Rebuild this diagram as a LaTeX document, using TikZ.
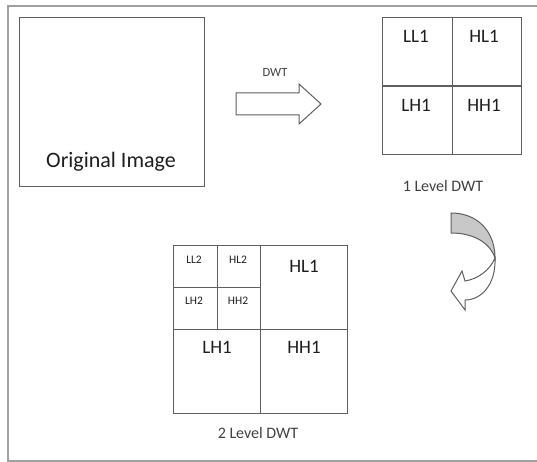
\documentclass[tikz,border=0pt]{standalone}
\usepackage{fontspec}
\setmainfont{Carlito}
\usetikzlibrary{positioning,calc}
\definecolor{lineg}{RGB}{95,95,95}
\definecolor{frameg}{RGB}{160,160,160}
\definecolor{txtg}{RGB}{30,30,30}
\definecolor{bandg}{RGB}{200,200,200}
\tikzset{
  frm/.style={draw=frameg, line width=2pt},
  box/.style={rectangle, draw=lineg, line width=1.3pt, fill=white, inner sep=0pt},
  split/.style={draw=lineg, line width=1.3pt},
  big/.style={font=\fontsize{19}{21}\selectfont, text=txtg, inner sep=0pt, anchor=base},
  tiny/.style={font=\fontsize{11.5}{13}\selectfont, text=txtg, inner sep=0pt, anchor=base},
  captxt/.style={font=\fontsize{16}{18}\selectfont, text=black!75, inner sep=0pt, anchor=base},
  blockar/.style={draw=lineg, line width=1pt, fill=white, line join=miter},
}

\begin{document}
\begin{tikzpicture}[x=1pt, y=-1pt]
\useasboundingbox (0,0) rectangle (537,462);

% ============================ frame =====================================
\draw[frm] (537,6) -- (8,6) -- (8,461) -- (537,461);

% ============================ original image ============================
\node[box, anchor=north west, minimum width=185pt, minimum height=169pt] (orig) at (19,17) {};
\node[big, font=\fontsize{22}{24}\selectfont] (origtxt) at (111,168) {Original Image};

% ============================ DWT arrow =================================
\draw[blockar] (236,93) -- (299,93) -- (299,84) -- (321,104) -- (299,124)
  -- (299,115) -- (236,115) -- cycle;
\node[captxt, font=\fontsize{12.5}{14}\selectfont] (dwt) at (275,77) {DWT};

% ============================ 1 level DWT ===============================
\node[box, anchor=north west, minimum width=139pt, minimum height=137pt] (lvla) at (382,17) {};
\draw[split] (lvla.north) -- (lvla.south);
\draw[split] (lvla.west) -- (lvla.east);
\node[big] (lla) at (416,43)  {LL1};
\node[big] (hla) at (484,43)  {HL1};
\node[big] (lha) at (416,112) {LH1};
\node[big] (hha) at (484,112) {HH1};
\node[captxt] (capa) at (443,192) {1 Level DWT};

% ============================ curved arrow ==============================
\draw[blockar, fill=bandg] (451,213) .. controls (478,213) and (495,232) .. (495,258)
  .. controls (490,243) and (474,233) .. (451,233) -- cycle;
\draw[blockar] (495,258) .. controls (496,285) and (481,300) .. (465,300)
  -- (465,310) -- (451,291) -- (462,271) -- (465,281)
  .. controls (478,279) and (490,270) .. (495,258) -- cycle;

% ============================ 2 level DWT ===============================
\node[box, anchor=north west, minimum width=174pt, minimum height=168pt] (lvlb) at (173,245) {};
\node[box, anchor=north west, minimum width=87pt, minimum height=84pt, fill=none] (quad) at (173,245) {};
\draw[split] (lvlb.north) -- (lvlb.south);
\draw[split] (lvlb.west) -- (lvlb.east);
\draw[split] (quad.north) -- (quad.south);
\draw[split] (quad.west) -- (quad.east);
\node[tiny] (llb) at (194,263) {LL2};
\node[tiny] (hlb) at (238,263) {HL2};
\node[tiny] (lhb) at (194,304) {LH2};
\node[tiny] (hhb) at (238,304) {HH2};
\node[big] (hlc) at (304,272) {HL1};
\node[big] (lhc) at (217,353) {LH1};
\node[big] (hhc) at (304,353) {HH1};
\node[captxt] (capb) at (258,438) {2 Level DWT};

\end{tikzpicture}
\end{document}
